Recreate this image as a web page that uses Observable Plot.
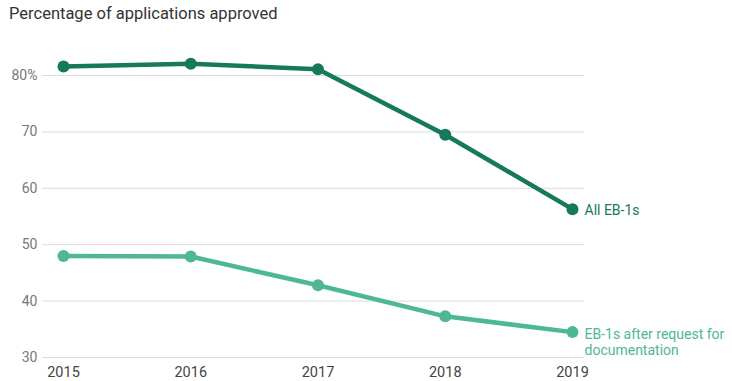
<!DOCTYPE html>
<html><head><meta charset="utf-8">
<script src="https://cdn.jsdelivr.net/npm/d3@7"></script>
<script src="https://cdn.jsdelivr.net/npm/@observablehq/plot@0.6"></script>
<style>
body{margin:0;background:#fff;font-family:Roboto,"Noto Sans",sans-serif;}
#title{height:30px;box-sizing:border-box;padding:4px 0 0 9px;font-size:16.5px;color:#333;line-height:20px;}
</style></head>
<body>
<div id="title">Percentage of applications approved</div>
<div id="chart"></div>
<script>
const years = [2015, 2016, 2017, 2018, 2019];
const allEB1 = [81.6, 82.1, 81.1, 69.5, 56.3];
const afterRFE = [48.0, 47.9, 42.8, 37.3, 34.5];
const yTicks = [30, 40, 50, 60, 70, 80];
const seriesNames = ["All EB-1s", "EB-1s after request for\ndocumentation"];
const colors = ["#17795c", "#4db893"];

const data = [];
years.forEach((y, i) => {
  data.push({year: y, value: allEB1[i], series: seriesNames[0]});
  data.push({year: y, value: afterRFE[i], series: seriesNames[1]});
});
const last = data.filter(d => d.year === years[years.length - 1]);

const chart = Plot.plot({
  width: 732,
  height: 351,
  marginLeft: 42,
  marginRight: 148,
  marginTop: 45,
  marginBottom: 24,
  style: {fontFamily: "Roboto, 'Noto Sans', sans-serif", fontSize: "14px", background: "#fff"},
  x: {domain: [2015, 2019], insetLeft: 21, insetRight: 12},
  y: {domain: [30, 80]},
  color: {domain: seriesNames, range: colors},
  marks: [
    Plot.ruleY(yTicks, {stroke: "#dcdcdc", strokeWidth: 1}),
    Plot.axisY(yTicks, {tickSize: 0, tickPadding: 5, fill: "#777", fontSize: 14,
      tickFormat: d => d === 80 ? "80%" : String(d), label: null}),
    Plot.axisX(years, {tickSize: 0, tickPadding: 9, fill: "#444", fontSize: 14.5,
      tickFormat: d => String(d), label: null}),
    Plot.line(data, {x: "year", y: "value", z: "series", stroke: "series", strokeWidth: 4.5}),
    Plot.dot(data, {x: "year", y: "value", fill: "series", r: 6}),
    Plot.text(last, {x: "year", y: "value", text: "series", fill: "series",
      textAnchor: "start", dx: 12, lineAnchor: "top", dy: -5, fontSize: 14, lineHeight: 1.15,
      filter: d => d.series === seriesNames[1]}),
    Plot.text(last, {x: "year", y: "value", text: "series", fill: "series",
      textAnchor: "start", dx: 12, lineAnchor: "middle", dy: 1, fontSize: 14,
      filter: d => d.series === seriesNames[0]})
  ]
});
document.getElementById("chart").appendChild(chart);
</script>
</body></html>
